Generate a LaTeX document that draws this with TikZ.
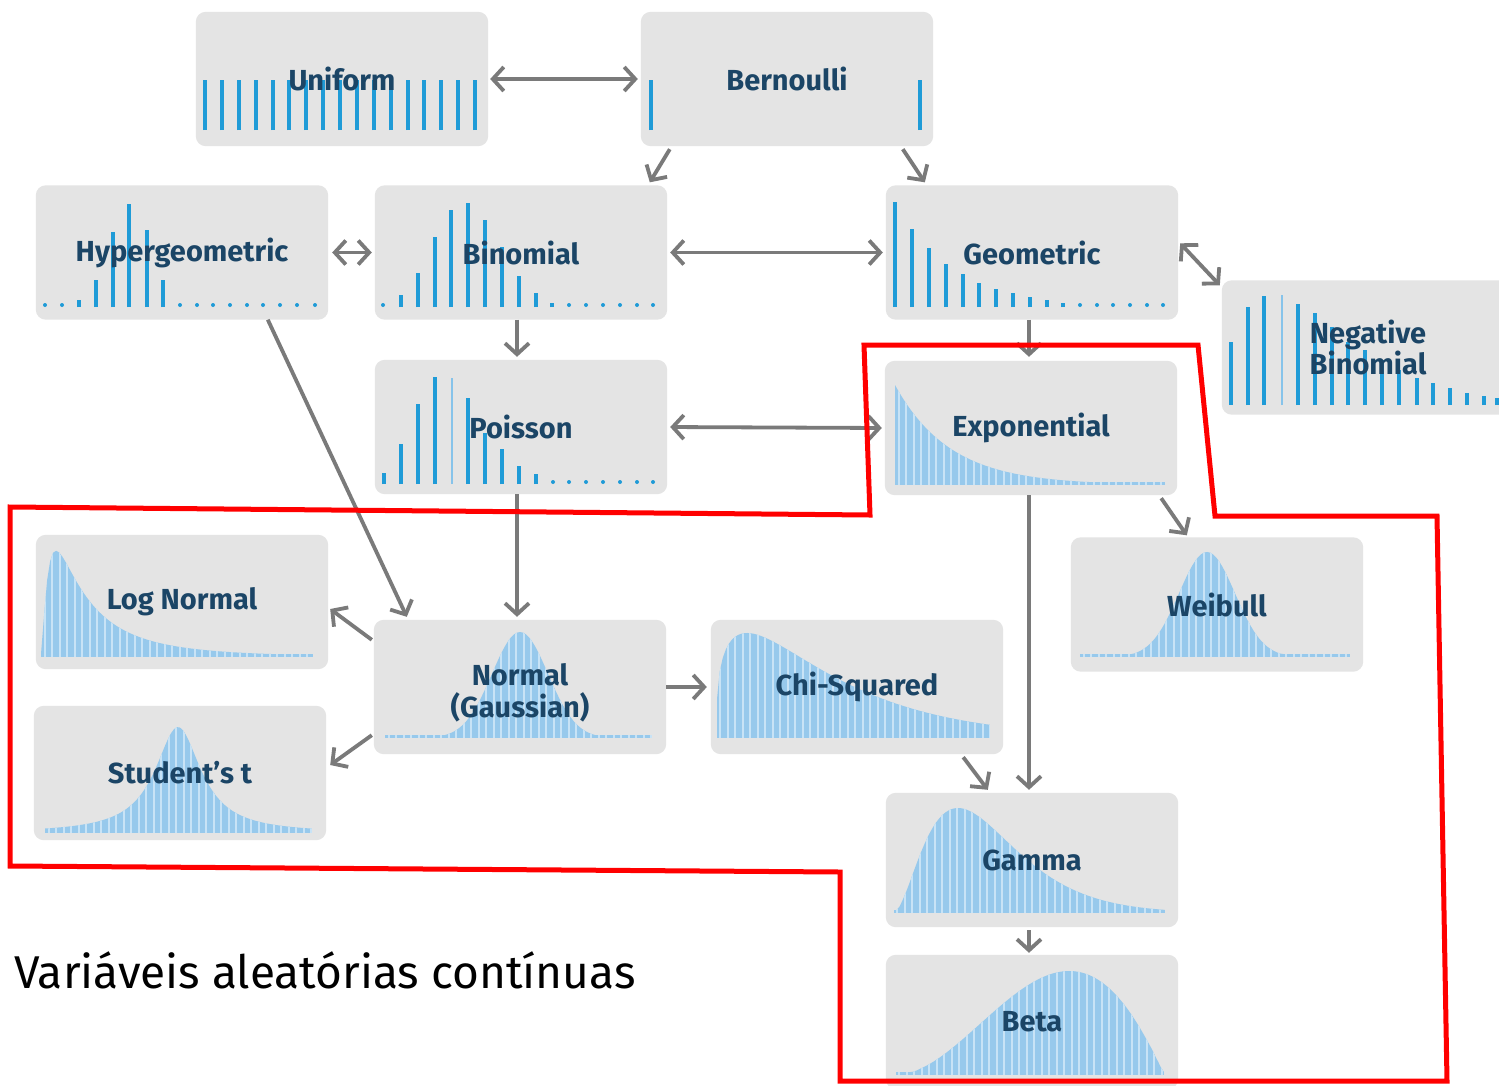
\documentclass[tikz,border=0pt]{standalone}
\usepackage{graphicx}
\usepackage{fontspec}
\setmainfont{Fira Sans}
\usetikzlibrary{arrows.meta}

\definecolor{boxgray}{HTML}{E4E4E4}
\definecolor{labelnavy}{HTML}{1B4566}
\definecolor{barblue}{HTML}{1F9BD7}
\definecolor{barlight}{HTML}{86C3EA}
\definecolor{densblue}{HTML}{97C9EC}
\definecolor{densstripe}{HTML}{C8E3F6}
\definecolor{arrowgray}{HTML}{7A7A7A}
\definecolor{framered}{HTML}{FF0000}

\pgfdeclarelayer{bg}
\pgfdeclarelayer{mid}
\pgfsetlayers{bg,mid,main}

% striped density curve: x0, x1, baseline, height as a function of \x
\newcommand\densitypanel[4]{%
  \begin{scope}
    \clip (#1,#3) -- plot[domain=#1:#2, samples=90] (\x,{#3-max(#4,3)}) -- (#2,#3) -- cycle;
    \fill[densblue] (#1,#3-130) rectangle (#2,#3);
    \foreach \k in {0,...,40} {
      \pgfmathsetmacro\stripex{#1+3.75+7.5*\k}
      \draw[densstripe, line width=1.6pt] (\stripex,#3-130) -- (\stripex,#3);
    }
  \end{scope}}

\tikzset{
  dist/.style={rectangle, minimum width=292pt, minimum height=134pt, inner sep=0pt,
    text=labelnavy, font=\fontsize{29}{32}\selectfont\bfseries, align=center},
  bar/.style={barblue, line width=4pt},
  thinbar/.style={barlight, line width=2pt},
  conn/.style={arrowgray, line width=3.8pt,
    -{Straight Barb[length=11pt,width=24pt]}},
  biconn/.style={arrowgray, line width=3.8pt,
    {Straight Barb[length=11pt,width=24pt]}-{Straight Barb[length=11pt,width=24pt]}},
}

\begin{document}
\begin{tikzpicture}[x=1pt, y=-1pt]
\useasboundingbox (0,0) rectangle (1499,1085);

% distribution boxes
\node[dist] (uniform)     at (342,79)    {Uniform};
\node[dist] (bernoulli)   at (787,79)    {Bernoulli};
\node[dist] (hyper)       at (182,252.5) {Hypergeometric};
\node[dist] (binomial)    at (521,252.5) {Binomial};
\node[dist] (geometric)   at (1032,252.5){Geometric};
\node[dist] (negbin)      at (1368,347.5){Negative\\[-1pt]Binomial};
\node[dist] (poisson)     at (521,427)   {Poisson};
\node[dist] (exponential) at (1031,428)  {Exponential};
\node[dist] (lognormal)   at (182,602)   {Log Normal};
\node[dist] (normal)      at (520,687)
  {\raisebox{-8pt}[\height][\depth]{\begin{tabular}{@{}c@{}}Normal\\[-2pt](Gaussian)\end{tabular}}};
\node[dist] (chisq)       at (857,687)   {Chi-Squared};
\node[dist] (weibull)     at (1217,604.5){Weibull};
\node[dist] (student)     at (180,773)   {Student’s t};
\node[dist] (gamma)       at (1032,860)  {Gamma};
\node[dist] (beta)        at (1032,1022) {Beta};

\begin{pgfonlayer}{bg}
  \fill[white] (0,0) rectangle (1499,1085);
  \foreach \n in {uniform,bernoulli,hyper,binomial,geometric,negbin,poisson,exponential,
                  lognormal,normal,chisq,weibull,student,gamma,beta}
    \fill[boxgray, rounded corners=10pt] (\n.south west) rectangle (\n.north east);
\end{pgfonlayer}

\begin{pgfonlayer}{mid}
  % Uniform
  \foreach \k in {0,...,16} \draw[bar] (205+16.875*\k,130) -- (205+16.875*\k,80);
  % Bernoulli
  \foreach \bx in {651,920} \draw[bar] (\bx,130) -- (\bx,80);
  % Hypergeometric
  \foreach \bx/\bt in {79/300,96/280,113/232,129/204,147/230,163/280}
    \draw[bar] (\bx,307) -- (\bx,\bt);
  \foreach \bx in {45,62,180,197,213,230,247,263,280,297,315}
    \fill[barblue] (\bx,305) circle (2pt);
  % Binomial
  \foreach \bx/\bt in {401/295,418/273,435/237,451/210,468/203,485/220,502/247,519/276,536/293,552/303}
    \draw[bar] (\bx,307) -- (\bx,\bt);
  \foreach \bx in {383,569,586,603,620,637,653}
    \fill[barblue] (\bx,305) circle (2pt);
  % Geometric
  \foreach \bx/\bt in {895/202,912/229,929/248,946/264,963/274,979/283,996/289,1013/293,1030/297,1047/300,1063/303}
    \draw[bar] (\bx,307) -- (\bx,\bt);
  \foreach \bx in {1080,1097,1113,1130,1147,1163}
    \fill[barblue] (\bx,305) circle (2pt);
  % Negative binomial
  \foreach \bx/\bt in {1231/342,1248/307,1264/296,1298/304,1315/313,1332/327,1348/342,1365/350,1382/360,1399/370,1417/378,1433/383,1450/388,1467/393,1484/396,1497/398}
    \draw[bar] (\bx,405) -- (\bx,\bt);
  \draw[thinbar] (1282,405) -- (1282,295);
  % Poisson
  \foreach \bx/\bt in {384/473,401/444,418/404,435/377,468/398,485/433,502/449,519/466,536/474}
    \draw[bar] (\bx,484) -- (\bx,\bt);
  \draw[thinbar] (452,484) -- (452,378);
  \foreach \bx in {553,569,586,603,620,637,653}
    \fill[barblue] (\bx,482) circle (2pt);

  % continuous densities
  \densitypanel{895}{1165}{485}{100*exp(-(\x-895)/55)}
  \densitypanel{41}{313}{657}{106*(16/(\x-40))*exp(0.5-(ln(\x-40)-3.77)*(ln(\x-40)-3.77)/2)}
  \densitypanel{45}{312}{833}{106/(1+((\x-178)/28)*((\x-178)/28))}
  \densitypanel{385}{652}{738}{106*exp(-((\x-520)/28)*((\x-520)/28)/2)}
  \densitypanel{716.5}{990}{738}{105*exp(0.366*(ln((\x-716)/31)-(\x-716)/31+1))}
  \densitypanel{1080}{1350}{657}{105*exp(-((\x-1207)/28)*((\x-1207)/28)/2)}
  \densitypanel{893.5}{1165}{913}{105*exp(2*(ln((\x-893)/65)-(\x-893)/65+1))}
  \densitypanel{895.5}{1164}{1075}{104*exp(2*ln((\x-895)/174.15)+1.1*ln((1165-\x)/95.85))}
\end{pgfonlayer}

% connectors
\draw[biconn, shorten <=2pt, shorten >=3pt] (uniform.east) -- (bernoulli.west);
\draw[conn] ([xshift=29pt,yshift=-3pt]bernoulli.south west) -- ([xshift=275pt,yshift=3pt]binomial.north west);
\draw[conn] ([xshift=262pt,yshift=-3pt]bernoulli.south west) -- ([xshift=39pt,yshift=3pt]geometric.north west);
\draw[biconn, shorten <=4pt, shorten >=3pt] (hyper.east) -- (binomial.west);
\draw[biconn, shorten <=3pt, shorten >=3pt] (binomial.east) -- (geometric.west);
\draw[biconn] ([xshift=2pt,yshift=-58pt]geometric.north east) -- ([xshift=-2pt,yshift=-5pt]negbin.north west);
\draw[conn, shorten >=3pt] ([xshift=-4pt]binomial.south) -- ([xshift=-4pt]poisson.north);
\draw[conn, shorten >=4pt] ([xshift=-3pt]geometric.south) -- ([xshift=-2pt]exponential.north);
\draw[biconn, shorten <=3pt, shorten >=3pt] (poisson.east) -- (exponential.west);
\draw[conn] ([xshift=232pt]hyper.south west) -- ([xshift=33pt,yshift=3pt]normal.north west);
\draw[conn, shorten >=3pt] ([xshift=-4pt]poisson.south) -- ([xshift=-3pt]normal.north);
\draw[conn] ([xshift=-16pt,yshift=-3pt]exponential.south east) -- ([xshift=116pt,yshift=2pt]weibull.north west);
\draw[conn, shorten >=3pt] ([xshift=-2pt]exponential.south) -- ([xshift=-3pt]gamma.north);
\draw[conn] ([xshift=-2pt,yshift=-20pt]normal.north west) -- ([xshift=2pt,yshift=-7pt]lognormal.east);
\draw[conn] ([xshift=-2pt,yshift=19pt]normal.south west) -- ([xshift=4pt,yshift=8pt]student.east);
\draw[conn, shorten >=4pt] (normal.east) -- (chisq.west);
\draw[conn] ([xshift=-40pt,yshift=-3pt]chisq.south east) -- ([xshift=102pt,yshift=3pt]gamma.north west);
\draw[conn, shorten <=3pt, shorten >=2pt] ([xshift=-3pt]gamma.south) -- ([xshift=-3pt]beta.north);

% continuous-variable region
\draw[framered, line width=5pt, line join=miter]
  (10,507) -- (870,515) -- (864,345) -- (1198,345) -- (1215,516) -- (1437,516)
  -- (1447,1081) -- (840,1081) -- (840,872) -- (10,866) -- cycle;

\node[anchor=base west, inner sep=0pt] (caption) at (14,988)
  {\fontsize{46}{50}\selectfont Variáveis aleatórias contínuas};
\end{tikzpicture}
\end{document}
